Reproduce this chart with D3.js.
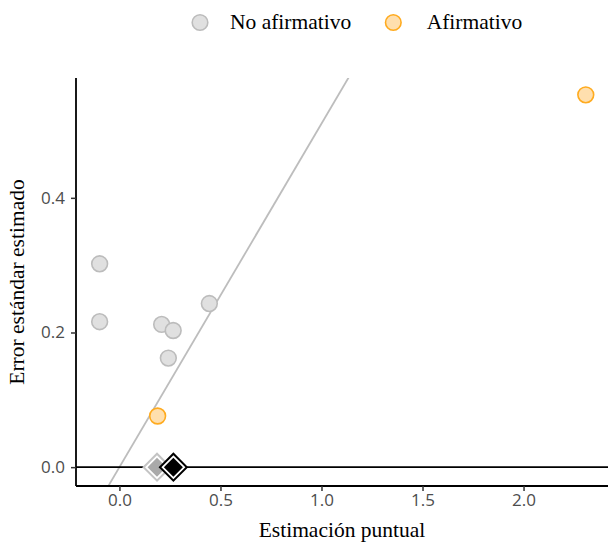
<!DOCTYPE html>
<html>
<head>
<meta charset="utf-8">
<script src="https://cdn.jsdelivr.net/npm/d3@7"></script>
<style>
  html, body { margin: 0; padding: 0; background: #fff; }
  svg { display: block; }
</style>
</head>
<body>
<svg id="chart" width="608" height="543"></svg>
<script>
// Estudios individuales: estimación puntual y su error estándar
const noAfirmativoX = [-0.098, -0.098, 0.209, 0.266, 0.242, 0.445];
const noAfirmativoY = [0.302, 0.216, 0.212, 0.203, 0.162, 0.243];
const afirmativoX = [0.189, 2.308];
const afirmativoY = [0.076, 0.553];

// Estimaciones combinadas (diamantes sobre el eje cero)
const resumenX = [0.186, 0.267];
const resumenTipo = ["No afirmativo", "Afirmativo"];

// Umbral de significación: EE = estimación / 1.96
const zCritico = 1.96;

const xTicks = [0, 0.5, 1.0, 1.5, 2.0];
const yTicks = [0, 0.2, 0.4];
const xDomain = [-0.215, 2.418];
const yDomain = [-0.028, 0.578];

const legendLabels = ["No afirmativo", "Afirmativo"];

const svg = d3.select("#chart");
const m = { left: 76, right: 608, top: 78, bottom: 486 };

const x = d3.scaleLinear().domain(xDomain).range([m.left, m.right]);
const y = d3.scaleLinear().domain(yDomain).range([m.bottom, m.top]);

const serif = "'Liberation Serif', 'Times New Roman', serif";
const sans = "'Open Sans', 'Liberation Sans', sans-serif";

const gris = { fill: "#e0e0e0", stroke: "#bcbcbc" };
const naranja = { fill: "#ffdfae", stroke: "#ffab1f" };

svg.append("defs").append("clipPath").attr("id", "panel")
  .append("rect")
  .attr("x", m.left).attr("y", m.top)
  .attr("width", m.right - m.left).attr("height", m.bottom - m.top);

// Línea del umbral
const lineX = [xDomain[0], xDomain[1]];
svg.append("line")
  .attr("clip-path", "url(#panel)")
  .attr("x1", x(lineX[0])).attr("y1", y(lineX[0] / zCritico))
  .attr("x2", x(lineX[1])).attr("y2", y(lineX[1] / zCritico))
  .attr("stroke", "#bdbdbd").attr("stroke-width", 1.8);

// Línea horizontal en cero
svg.append("line")
  .attr("x1", m.left).attr("x2", m.right)
  .attr("y1", y(0)).attr("y2", y(0))
  .attr("stroke", "#000").attr("stroke-width", 1.6);

// Puntos
const r = 7.9;
const pts = svg.append("g").attr("clip-path", "url(#panel)");
pts.selectAll("circle.no")
  .data(d3.zip(noAfirmativoX, noAfirmativoY))
  .join("circle")
  .attr("class", "no")
  .attr("cx", d => x(d[0])).attr("cy", d => y(d[1])).attr("r", r)
  .attr("fill", gris.fill).attr("stroke", gris.stroke).attr("stroke-width", 1.6);
pts.selectAll("circle.si")
  .data(d3.zip(afirmativoX, afirmativoY))
  .join("circle")
  .attr("class", "si")
  .attr("cx", d => x(d[0])).attr("cy", d => y(d[1])).attr("r", r)
  .attr("fill", naranja.fill).attr("stroke", naranja.stroke).attr("stroke-width", 1.6);

// Diamantes con borde doble
const estiloDiamante = {
  "No afirmativo": { outer: "#c4c4c4", inner: "#a9a9a9" },
  "Afirmativo": { outer: "#000", inner: "#000" }
};
const outerSym = d3.symbol().type(d3.symbolSquare).size(360);
const innerSym = d3.symbol().type(d3.symbolSquare).size(180);
const dg = svg.append("g");
resumenX.forEach((v, i) => {
  const s = estiloDiamante[resumenTipo[i]];
  const g = dg.append("g")
    .attr("transform", `translate(${x(v)},${y(0)}) rotate(45)`);
  g.append("path").attr("d", outerSym())
    .attr("fill", "#fff").attr("stroke", s.outer).attr("stroke-width", 2);
  g.append("path").attr("d", innerSym())
    .attr("fill", s.inner);
});

// Ejes
const fmt = d3.format(".1f");
const xAxis = svg.append("g")
  .attr("transform", `translate(0,${m.bottom})`)
  .call(d3.axisBottom(x).tickValues(xTicks).tickFormat(fmt).tickSize(5).tickPadding(3));
const yAxis = svg.append("g")
  .attr("transform", `translate(${m.left},0)`)
  .call(d3.axisLeft(y).tickValues(yTicks).tickFormat(fmt).tickSize(5).tickPadding(6));

[xAxis, yAxis].forEach(a => {
  a.select(".domain").attr("stroke", "#000").attr("stroke-width", 1.8);
  a.selectAll(".tick line").attr("stroke", "#333").attr("stroke-width", 1.5);
  a.selectAll(".tick text")
    .attr("fill", "#4d4d4d")
    .style("font-family", sans).style("font-size", "17px");
});
// Dominio del eje sin remates
xAxis.select(".domain").attr("d", `M${m.left},0H${m.right}`);
yAxis.select(".domain").attr("d", `M0,${m.top}V${m.bottom}`);

// Títulos de los ejes
svg.append("text")
  .attr("x", (m.left + m.right) / 2).attr("y", 537)
  .attr("text-anchor", "middle")
  .style("font-family", serif).style("font-size", "21.5px")
  .text("Estimación puntual");
svg.append("text")
  .attr("transform", `translate(23.5,${(m.top + m.bottom) / 2}) rotate(-90)`)
  .attr("text-anchor", "middle")
  .style("font-family", serif).style("font-size", "21.5px")
  .text("Error estándar estimado");

// Leyenda
const legendStyles = [gris, naranja];
const legendPos = [[200, 230], [393.3, 426.7]];
legendLabels.forEach((lab, i) => {
  svg.append("circle")
    .attr("cx", legendPos[i][0]).attr("cy", 22.5).attr("r", 7.8)
    .attr("fill", legendStyles[i].fill).attr("stroke", legendStyles[i].stroke)
    .attr("stroke-width", 1.6);
  svg.append("text")
    .attr("x", legendPos[i][1]).attr("y", 28.5)
    .style("font-family", serif).style("font-size", "21.5px")
    .text(lab);
});
</script>
</body>
</html>
